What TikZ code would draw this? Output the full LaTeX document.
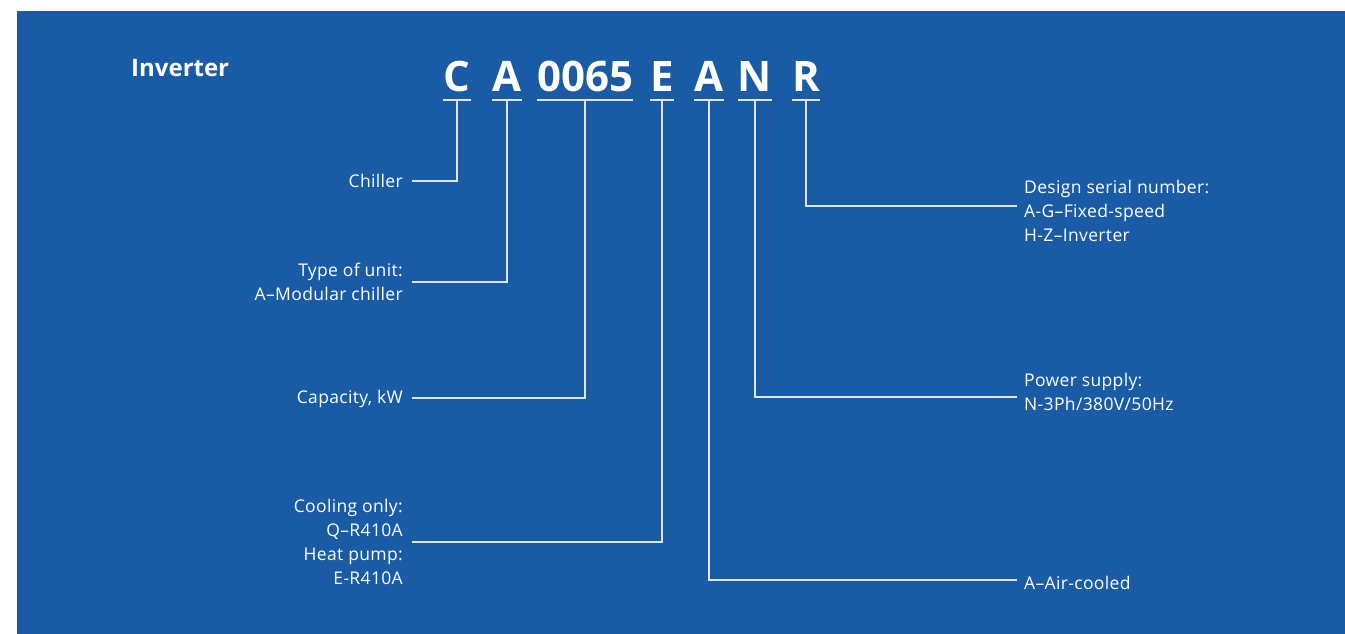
\documentclass[tikz,border=0pt]{standalone}
\usepackage{fontspec}
\setmainfont[LetterSpace=2]{Open Sans}
\newfontfamily\codefont{Open Sans}
\usetikzlibrary{positioning}
\definecolor{codeblue}{RGB}{26,91,166}
\definecolor{leadgray}{RGB}{222,230,240}
\tikzset{
  code/.style={anchor=base,inner sep=0pt,text=white,font=\codefont\fontsize{42}{42}\selectfont\bfseries},
  lbl/.style={inner sep=0pt,text=white,font=\fontsize{17.5}{24}\selectfont},
  lead/.style={draw=leadgray,line width=1.4pt},
}
\begin{document}
\begin{tikzpicture}[x=1pt,y=-1pt]
\useasboundingbox (0,0) rectangle (1345,634);
\fill[codeblue] (17,11) rectangle (1345,634);

\node[lbl,anchor=base west,font=\codefont\fontsize{24}{24}\selectfont\bfseries] (title) at (131,77) {Inverter};

% model code
\node[code] (c) at (457,92) {C};
\node[code] (a) at (507,92) {A};
\node[code] (cap) at (585,92) {0065};
\node[code] (e) at (662,92) {E};
\node[code] (a2) at (709,92) {A};
\node[code] (n) at (755,92) {N};
\node[code] (r) at (806,92) {R};

\foreach \n in {c,a,cap,e,a2,n,r}
  \draw[lead] ([yshift=-8pt]\n.base west) -- coordinate (\n-u) ([yshift=-8pt]\n.base east);

% line ends
\coordinate (chil-end) at (412,181);
\coordinate (type-end) at (412,282);
\coordinate (capa-end) at (412,398);
\coordinate (cool-end) at (412,542);
\coordinate (ser-end) at (1017,206);
\coordinate (pow-end) at (1017,397);
\coordinate (air-end) at (1017,580);

% labels
\node[lbl,left=9pt of chil-end] (chil) {Chiller};
\node[lbl,align=right,left=9pt of type-end] (type) {Type of unit:\\A–Modular chiller};
\node[lbl,left=9pt of capa-end,yshift=-1pt] (capa) {Capacity, kW};
\node[lbl,align=right,left=9pt of cool-end] (cool) {Cooling only:\\Q–R410A\\Heat pump:\\E-R410A};
\node[lbl,align=left,right=7pt of ser-end,yshift=-4.5pt] (ser) {Design serial number:\\A-G–Fixed-speed\\H-Z–Inverter};
\node[lbl,align=left,right=7pt of pow-end,yshift=5pt] (pow) {Power supply:\\N-3Ph/380V/50Hz};
\node[lbl,right=7pt of air-end,yshift=-2.5pt] (air) {A–Air-cooled};

% connectors
\draw[lead] (c-u) |- (chil-end);
\draw[lead] (a-u) |- (type-end);
\draw[lead] (cap-u) |- (capa-end);
\draw[lead] (e-u) |- (cool-end);
\draw[lead] (r-u) |- (ser-end);
\draw[lead] (n-u) |- (pow-end);
\draw[lead] (a2-u) |- (air-end);
\end{tikzpicture}
\end{document}
